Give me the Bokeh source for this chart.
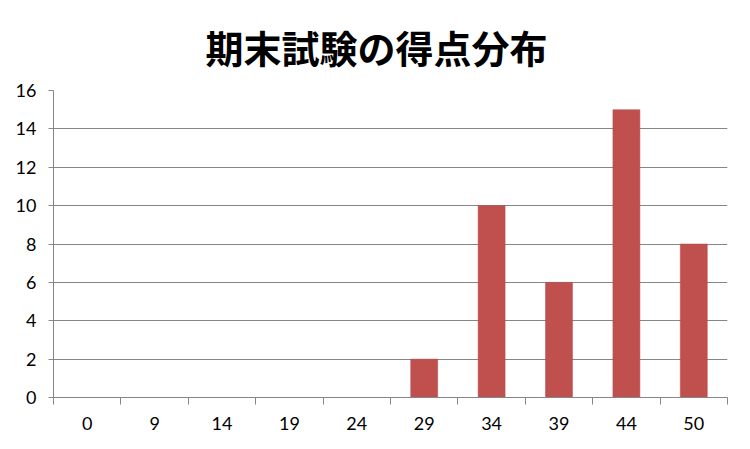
from bokeh.plotting import figure
from bokeh.models import ColumnDataSource, FixedTicker, Range1d, Title
from bokeh.embed import file_html
from bokeh.resources import INLINE

title_text = "期末試験の得点分布"
categories = ["0", "9", "14", "19", "24", "29", "34", "39", "44", "50"]
counts = [0, 0, 0, 0, 0, 2, 10, 6, 15, 8]
y_ticks = [0, 2, 4, 6, 8, 10, 12, 14, 16]

positions = [i + 0.5 for i in range(len(categories))]
source = ColumnDataSource(dict(x=positions, top=counts, label=categories))

p = figure(width=750, height=449, output_backend="svg", toolbar_location=None,
           x_range=Range1d(0, len(categories)), y_range=Range1d(0, 16),
           min_border_left=53, min_border_right=23, min_border_top=90, min_border_bottom=52)

p.title = Title(text=title_text, text_font="Noto Sans CJK JP", text_font_size="38px",
                text_font_style="bold", align="left", offset=152, text_color="#000000",
                vertical_align="top", standoff=30)

p.vbar(x="x", top="top", bottom=0, width=0.4, source=source,
       fill_color="#C0504D", line_color="#B5494A", line_width=0.5)

p.outline_line_color = None
p.background_fill_color = "white"
p.border_fill_color = "white"

# x axis
p.xaxis.ticker = FixedTicker(ticks=positions, minor_ticks=list(range(len(categories) + 1)))
p.xaxis.major_label_overrides = {pos: lab for pos, lab in zip(positions, categories)}
p.xaxis.major_tick_line_color = None
p.xaxis.minor_tick_line_color = "#868686"
p.xaxis.minor_tick_out = 7
p.xaxis.minor_tick_in = 0
p.xaxis.axis_line_color = "#868686"
p.xaxis.major_label_text_font = "Lato"
p.xaxis.major_label_text_font_size = "18px"
p.xaxis.major_label_text_color = "#000000"
p.xaxis.major_label_standoff = 12
p.xgrid.grid_line_color = None

# y axis
p.yaxis.ticker = FixedTicker(ticks=y_ticks)
p.yaxis.minor_tick_line_color = None
p.yaxis.major_tick_line_color = "#868686"
p.yaxis.major_tick_out = 5
p.yaxis.major_tick_in = 0
p.yaxis.axis_line_color = "#868686"
p.yaxis.major_label_text_font = "Lato"
p.yaxis.major_label_text_font_size = "18px"
p.yaxis.major_label_text_color = "#000000"
p.yaxis.major_label_standoff = 12
p.ygrid.grid_line_color = "#868686"
p.ygrid.grid_line_width = 1

open("out.html", "w").write(file_html(p, INLINE))
